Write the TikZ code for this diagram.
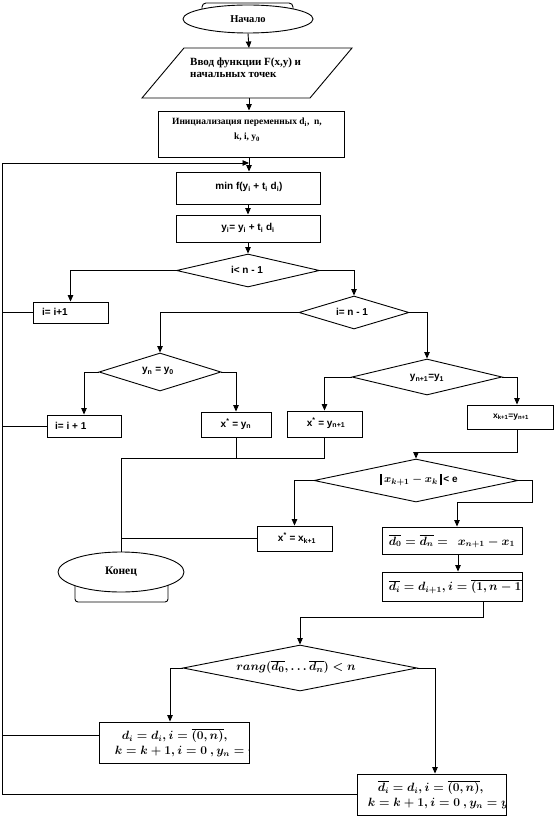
\documentclass[tikz,border=0pt]{standalone}
\usepackage{fontspec}
\setmainfont{Liberation Serif}
\setsansfont{Liberation Sans}
\usetikzlibrary{shapes.geometric,arrows.meta}
\tikzset{
 ln/.style={line width=0.9pt},
 arr/.style={ln,-{Triangle[length=6.5pt,width=5.5pt]}},
 boxnode/.style={draw,ln,rectangle,inner sep=0pt,fill=white},
 dia/.style={draw,ln,diamond,inner sep=0pt,fill=white},
 oval/.style={draw,ln,ellipse,inner sep=0pt,fill=white},
 rus/.style={font=\fontsize{11}{11.5}\selectfont\bfseries,inner sep=0pt},
 big/.style={font=\fontsize{11.5}{12}\selectfont\bfseries,inner sep=0pt},
 lab/.style={font=\sffamily\bfseries\fontsize{10}{11}\selectfont,inner sep=0pt},
 fml/.style={font=\fontsize{12}{15}\selectfont\boldmath,inner sep=0pt},
}
\newcommand{\bbar}{\rule[-2.5pt]{2.2pt}{11pt}}
\begin{document}
\begin{tikzpicture}[x=1pt,y=-1pt]
\useasboundingbox (0,0) rectangle (556,818);
% start
\draw[ln,rounded corners=4pt] (202,20) -- (202,3) -- (293,3) -- (293,20);
\node[oval,minimum width=130pt,minimum height=28pt] (start) at (248,19) {};
\node[big,font=\fontsize{10.5}{12}\selectfont\bfseries] (startt) at (start) {Начало};
% parallelogram
\draw[ln] (184,48) -- (352,48) -- (310,98) -- (142,98) -- cycle;
\coordinate (paraT) at (249,48);
\coordinate (paraB) at (249,98);
\node[rus,anchor=west,align=left] (parat) at (190,67.5) {Ввод функции F(x,y) и\\начальных точек};
% init
\node[boxnode,minimum width=186pt,minimum height=46pt] (init) at (251,134) {};
\node[rus,align=center,font=\fontsize{9.5}{15}\selectfont\bfseries] (initt) at (247,130) {Инициализация переменных d\textsubscript{i},~ n,\\k, i, y\textsubscript{0}};
% min, y
\node[boxnode,minimum width=144pt,minimum height=32pt] (mn) at (248,188) {};
\node[lab] (mnt) at (249,187) {min f(y\textsubscript{i} + t\textsubscript{i} d\textsubscript{i})};
\node[boxnode,minimum width=144pt,minimum height=27pt] (yb) at (248,228.5) {};
\node[lab] (ybt) at (248,228) {y\textsubscript{i}= y\textsubscript{i} + t\textsubscript{i} d\textsubscript{i}};
% diamonds
\node[dia,minimum width=143pt,minimum height=33pt] (d1) at (248,270.5) {};
\node[lab] (d1t) at (247,270) {i< n - 1};
\node[dia,minimum width=110pt,minimum height=33pt] (d2) at (354,312.5) {};
\node[lab] (d2t) at (352,312) {i= n - 1};
\node[dia,minimum width=122pt,minimum height=38pt] (d3) at (160,372) {};
\node[lab] (d3t) at (158,371) {y\textsubscript{n} = y\textsubscript{0}};
\node[dia,minimum width=150pt,minimum height=36pt] (d4) at (427,377) {};
\node[lab] (d4t) at (427,378) {y\textsubscript{n+1}=y\textsubscript{1}};
\node[dia,minimum width=204pt,minimum height=43pt] (d5) at (416,480.5) {};
\node[lab,anchor=west] (d5t) at (380,480) {\bbar\,{\rmfamily\fontsize{11}{12}\selectfont\boldmath$x_{k+1}-x_k$}\,\bbar\,< e};
\node[dia,minimum width=234pt,minimum height=46pt] (d6) at (300,668) {};
\node[fml,font=\fontsize{12.5}{15}\selectfont\boldmath] (d6t) at (296,667) {$rang(\overline{d_0},\ldots\overline{d_n})<n$};
% boxes
\node[boxnode,minimum width=75pt,minimum height=21pt] (inc1) at (70.5,312.5) {};
\node[lab,anchor=west] (inc1t) at (42,312) {i= i+1};
\node[boxnode,minimum width=74pt,minimum height=22pt] (inc2) at (84,426) {};
\node[lab,anchor=west] (inc2t) at (55,426) {i= i + 1};
\node[boxnode,minimum width=70pt,minimum height=25pt] (xs1) at (236,424.5) {};
\node[lab] (xs1t) at (236,424) {x\textsuperscript{*} = y\textsubscript{n}};
\node[boxnode,minimum width=75pt,minimum height=26pt] (xs2) at (324.5,424) {};
\node[lab] (xs2t) at (326,423) {x\textsuperscript{*} = y\textsubscript{n+1}};
\node[boxnode,minimum width=86pt,minimum height=24pt] (xk) at (510,417) {};
\node[lab,font=\sffamily\bfseries\fontsize{8.5}{9}\selectfont] (xkt) at (511,417) {x\textsubscript{k+1}=y\textsubscript{n+1}};
\node[boxnode,minimum width=75pt,minimum height=25pt] (xs3) at (294.5,538.5) {};
\node[lab] (xs3t) at (297,538) {x\textsuperscript{*} = x\textsubscript{k+1}};
% end
\draw[ln,rounded corners=3pt] (75,585) -- (75,602) -- (168,602) -- (168,585);
\node[oval,minimum width=126pt,minimum height=40pt] (fin) at (121,572) {};
\node[big] (fint) at (fin) {Конец};
% formula boxes
\node[boxnode,minimum width=140pt,minimum height=27pt] (dz) at (452,540.5) {};
\begin{scope}
\clip (dz.south west) rectangle (dz.north east);
\node[fml,anchor=west] (dzt) at ([xshift=7pt,yshift=-1pt]dz.west) {$\overline{d_0}=\overline{d_n}=\ \ x_{n+1}-x_1$};
\end{scope}
\node[boxnode,minimum width=140pt,minimum height=29pt] (di) at (452,586.5) {};
\begin{scope}
\clip (di.south west) rectangle (di.north east);
\node[fml,anchor=west] (dit) at ([xshift=7pt]di.west) {$\overline{d_i}=d_{i+1},i=\overline{(1,n-1)}$};
\end{scope}
\node[boxnode,minimum width=150pt,minimum height=41pt] (lb) at (174,742.5) {};
\begin{scope}
\clip (lb.south west) rectangle (lb.north east);
\node[fml,anchor=west,align=left] (lbt) at ([xshift=16pt]lb.west) {\hspace*{7pt}$d_i=d_i,i=\overline{(0,n)},$\\$k=k+1,i=0\ ,y_n=y_0$};
\end{scope}
\node[boxnode,minimum width=149pt,minimum height=41pt] (rb) at (431.5,794.5) {};
\begin{scope}
\clip (rb.south west) rectangle (rb.north east);
\node[fml,anchor=west,align=left] (rbt) at ([xshift=11pt]rb.west) {\hspace*{10pt}$\overline{d_i}=d_i,i=\overline{(0,n)},$\\$k=k+1,i=0\ ,y_n=y_0$};
\end{scope}
% coordinates
\coordinate (lt) at (2,163);
\coordinate (jn) at (121,458);
\coordinate (k1) at (517,452);
\coordinate (c1) at (532,502);
\coordinate (c2) at (457,502);
\coordinate (c3) at (483,617);
% connectors
\draw[arr] (start.south) -- (paraT);
\draw[arr] (paraB) -- (paraB |- init.north);
\draw[arr] (init.south -| paraB) -- (paraB |- mn.north);
\draw[arr] (mn.south) -- (yb.north);
\draw[arr] (yb.south) -- (d1.north);
\draw[arr] (d1.west) -| (inc1.north);
\draw[arr] (d1.east) -| (d2.north);
\draw[arr] (d2.west) -| (d3.north);
\draw[arr] (d2.east) -| (d4.north);
\draw[arr] (d3.west) -| (inc2.north);
\draw[arr] (d3.east) -| (xs1.north);
\draw[arr] (d4.west) -| (xs2.north);
\draw[arr] (d4.east) -| ([xshift=7pt]xk.north);
\draw[ln] (xs1.south) -- (xs1.south |- jn);
\draw[ln] (xs2.south) |- (jn) -- (fin.north);
\draw[ln] (xs3.west) -- (xs3.west -| jn);
\draw[arr] ([xshift=7pt]xk.south) -- (k1) -| (d5.north);
\draw[arr] (d5.west) -| (xs3.north);
\draw[arr] (d5.east) -| (c1) -- (c2) -- (c2 |- dz.north);
\draw[arr] ([xshift=6pt]dz.south) -- ([xshift=6pt]di.north);
\draw[arr] (c3 |- di.south) -- (c3) -| (d6.north);
\draw[arr] (d6.west) -| ([xshift=-4pt]lb.north);
\draw[arr] (d6.east) -| ([xshift=3.5pt]rb.north);
\draw[ln] (rb.west) -- (rb.west -| lt) -- (lt);
\draw[arr] (lt) -- (lt -| paraB);
\draw[ln] (inc1.west) -- (inc1.west -| lt);
\draw[ln] (inc2.west) -- (inc2.west -| lt);
\draw[ln] ([yshift=7.5pt]lb.west) -- ([yshift=7.5pt]lb.west -| lt);
\end{tikzpicture}
\end{document}
